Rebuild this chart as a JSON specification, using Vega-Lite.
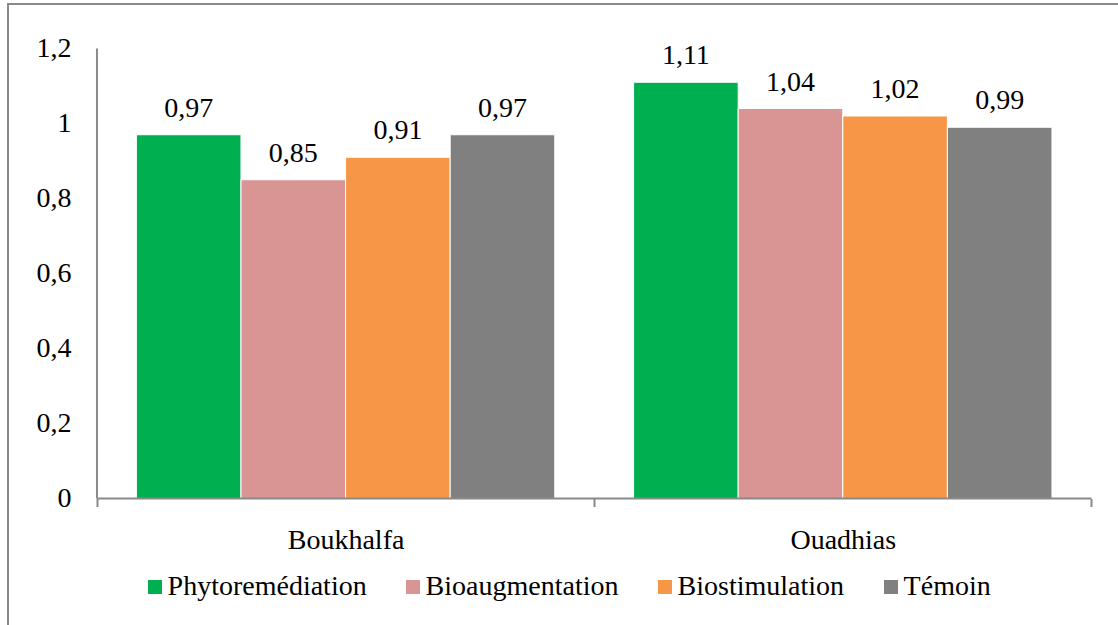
{
  "$schema": "https://vega.github.io/schema/vega-lite/v6.json",
  "width": 1114,
  "height": 625,
  "autosize": {"type": "none"},
  "padding": {"left": 8, "top": 4, "right": -4, "bottom": -4},
  "background": "white",
  "config": {
    "locale": {"number": {"decimal": ",", "thousands": " ", "grouping": [3], "currency": ["", " €"]}},
    "font": "Liberation Serif",
    "view": {"stroke": "#898989", "strokeWidth": 2}
  },
  "data": {
    "values": [
      {"site": "Boukhalfa", "traitement": "Phytoremédiation", "valeur": 0.97},
      {"site": "Boukhalfa", "traitement": "Bioaugmentation", "valeur": 0.85},
      {"site": "Boukhalfa", "traitement": "Biostimulation", "valeur": 0.91},
      {"site": "Boukhalfa", "traitement": "Témoin", "valeur": 0.97},
      {"site": "Ouadhias", "traitement": "Phytoremédiation", "valeur": 1.11},
      {"site": "Ouadhias", "traitement": "Bioaugmentation", "valeur": 1.04},
      {"site": "Ouadhias", "traitement": "Biostimulation", "valeur": 1.02},
      {"site": "Ouadhias", "traitement": "Témoin", "valeur": 0.99}
    ]
  },
  "encoding": {
    "x": {
      "field": "site",
      "type": "nominal",
      "scale": {"paddingInner": 0, "paddingOuter": 0.12026, "align": 0.744},
      "axis": {
        "title": null,
        "orient": "bottom",
        "offset": -130.5,
        "domain": false,
        "grid": false,
        "tickBand": "extent",
        "tickSize": 8,
        "tickWidth": 2,
        "tickColor": "#898989",
        "labelAngle": 0,
        "labelFont": "Liberation Serif",
        "labelFontSize": 28,
        "labelColor": "black",
        "labelPadding": 19.5
      }
    }
  },
  "layer": [
    {
      "mark": {"type": "bar", "stroke": "white", "strokeWidth": 1},
      "encoding": {
        "xOffset": {
          "field": "traitement",
          "type": "nominal",
          "sort": ["Phytoremédiation", "Bioaugmentation", "Biostimulation", "Témoin"],
          "scale": {"paddingInner": 0, "paddingOuter": 0.3767}
        },
        "y": {
          "field": "valeur",
          "type": "quantitative",
          "scale": {"domain": [-0.348, 1.3187], "nice": false, "zero": false},
          "axis": {
            "title": null,
            "orient": "left",
            "offset": -89,
            "domain": false,
            "ticks": false,
            "tickSize": 0,
            "grid": false,
            "values": [0, 0.2, 0.4, 0.6, 0.8, 1, 1.2],
            "format": "~g",
            "labelFont": "Liberation Serif",
            "labelFontSize": 28,
            "labelColor": "black",
            "labelPadding": 26
          }
        },
        "color": {
          "field": "traitement",
          "type": "nominal",
          "sort": ["Phytoremédiation", "Bioaugmentation", "Biostimulation", "Témoin"],
          "scale": {
            "domain": ["Phytoremédiation", "Bioaugmentation", "Biostimulation", "Témoin"],
            "range": ["#00B050", "#D99594", "#F79646", "#808080"]
          },
          "legend": {
            "title": null,
            "orient": "none",
            "legendX": 133,
            "legendY": 569,
            "direction": "horizontal",
            "padding": 0,
            "symbolType": "square",
            "symbolSize": 196,
            "symbolStrokeWidth": 0,
            "labelFont": "Liberation Serif",
            "labelFontSize": 28,
            "labelColor": "black",
            "labelOffset": -1.4,
            "columnPadding": 32,
            "labelLimit": 400
          }
        }
      }
    },
    {
      "mark": {"type": "text", "baseline": "alphabetic", "dy": -18, "fontSize": 28, "color": "black", "font": "Liberation Serif"},
      "encoding": {
        "xOffset": {
          "field": "traitement",
          "type": "nominal",
          "sort": ["Phytoremédiation", "Bioaugmentation", "Biostimulation", "Témoin"]
        },
        "y": {"field": "valeur", "type": "quantitative"},
        "text": {"field": "valeur", "type": "quantitative", "format": ".2f"}
      }
    },
    {
      "data": {"values": [{}]},
      "mark": {"type": "rule", "color": "#898989", "strokeWidth": 2},
      "encoding": {
        "x": {"datum": "Boukhalfa", "bandPosition": 0},
        "y": {"datum": 0},
        "y2": {"datum": 1.2}
      }
    },
    {
      "data": {"values": [{}]},
      "mark": {"type": "rule", "color": "#898989", "strokeWidth": 2},
      "encoding": {
        "x": {"datum": "Boukhalfa", "bandPosition": 0},
        "x2": {"datum": "Ouadhias", "bandPosition": 1},
        "y": {"datum": 0}
      }
    }
  ]
}
